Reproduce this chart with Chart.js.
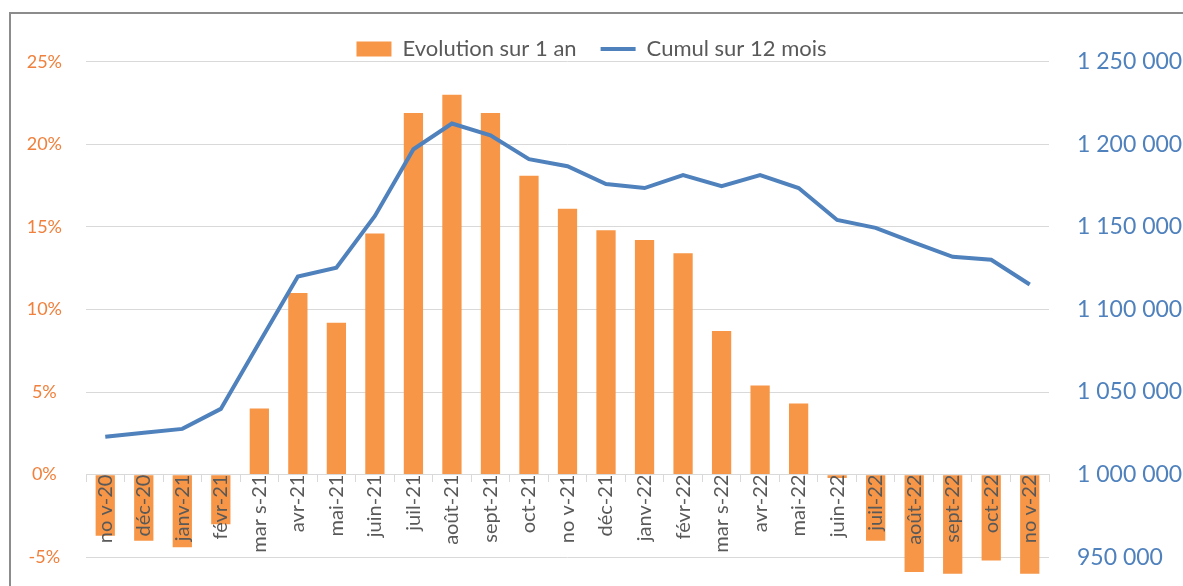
<!DOCTYPE html>
<html>
<head>
<meta charset="utf-8">
<script src="https://cdn.jsdelivr.net/npm/chart.js@4/dist/chart.umd.min.js"></script>
<style>
  html, body { margin: 0; padding: 0; background: #ffffff; }
  #wrap { position: relative; width: 1183px; height: 586px; overflow: hidden; }
  #frame { position: absolute; left: 9px; top: 12px; width: 1200px; height: 600px;
           border-left: 2px solid #8c8c8c; border-top: 2px solid #8c8c8c; }
  canvas { position: absolute; left: 0; top: 0; }
</style>
</head>
<body>
<div id="wrap">
  <div id="frame"></div>
  <canvas id="c" width="1183" height="586"></canvas>
</div>
<script>
const categories = ["no v-20", "déc-20", "janv-21", "févr-21", "mar s-21", "avr-21", "mai-21", "juin-21",
  "juil-21", "août-21", "sept-21", "oct-21", "no v-21", "déc-21", "janv-22", "févr-22", "mar s-22",
  "avr-22", "mai-22", "juin-22", "juil-22", "août-22", "sept-22", "oct-22", "no v-22"];

// Evolution sur 1 an (%)
const evolution = [-3.7, -4.0, -4.4, -3.0, 4.0, 11.0, 9.2, 14.6, 21.9, 23.0, 21.9, 18.1, 16.1, 14.8,
  14.2, 13.4, 8.7, 5.4, 4.3, -0.2, -4.0, -5.9, -6.0, -5.2, -6.0];

// Cumul sur 12 mois
const cumul = [1023000, 1025300, 1027700, 1039800, 1080000, 1119900, 1125300, 1156600, 1197000,
  1212600, 1205400, 1191000, 1186700, 1175900, 1173500, 1181300, 1174700, 1181300, 1173500,
  1154200, 1149400, 1140400, 1131900, 1130100, 1115100];

const seriesNames = ["Evolution sur 1 an", "Cumul sur 12 mois"];
const leftTickValues = [-5, 0, 5, 10, 15, 20, 25];
const rightTickValues = [950000, 1000000, 1050000, 1100000, 1150000, 1200000, 1250000];
const leftRange = [-6.5, 25];
const rightRange = [935000, 1250000];

const FONT = "Lato, 'Open Sans', sans-serif";

function fmtThousands(v) {
  return String(Math.round(v)).replace(/\B(?=(\d{3})+(?!\d))/g, " ");
}

new Chart(document.getElementById("c"), {
  data: {
    labels: categories,
    datasets: [
      {
        type: "line",
        label: seriesNames[1],
        data: cumul,
        yAxisID: "y1",
        borderColor: "#4F81BD",
        backgroundColor: "#4F81BD",
        borderWidth: 4,
        pointRadius: 0,
        pointStyle: "line",
        tension: 0,
        order: 0
      },
      {
        type: "bar",
        label: seriesNames[0],
        data: evolution,
        yAxisID: "y",
        backgroundColor: "#F79646",
        borderWidth: 0,
        pointStyle: "rect",
        categoryPercentage: 1.0,
        barPercentage: 0.5,
        order: 1
      }
    ]
  },
  options: {
    responsive: false,
    animation: false,
    devicePixelRatio: 1,
    layout: { padding: { top: 14, left: 0, right: 0, bottom: 4 } },
    plugins: {
      legend: {
        position: "top",
        align: "center",
        reverse: true,
        maxHeight: 47.7,
        labels: {
          usePointStyle: true,
          pointStyleWidth: 35,
          boxHeight: 15,
          padding: 24,
          color: "#595959",
          font: { family: FONT, size: 22 }
        }
      },
      tooltip: { enabled: false }
    },
    scales: {
      x: {
        type: "category",
        position: { y: 0 },
        offset: true,
        afterFit: (s) => { s.height = 0; },
        grid: {
          display: true,
          drawOnChartArea: false,
          drawTicks: true,
          tickLength: 7,
          offset: true,
          color: "#d9d9d9",
          z: 1
        },
        border: { display: true, color: "#d9d9d9", width: 1, z: 1 },
        ticks: {
          autoSkip: false,
          minRotation: 90,
          maxRotation: 90,
          padding: -7,
          z: 2,
          color: "#595959",
          font: { family: FONT, size: 20 }
        }
      },
      y: {
        type: "linear",
        position: "left",
        min: leftRange[0],
        max: leftRange[1],
        afterFit: (s) => { s.width = 86; s.paddingTop = 0; s.paddingBottom = 0; },
        afterBuildTicks: (s) => { s.ticks = leftTickValues.map(v => ({ value: v })); },
        grid: { color: "#d9d9d9", drawTicks: false, lineWidth: 1 },
        border: { display: false },
        ticks: {
          crossAlign: "center",
          padding: 24,
          color: "#F0803C",
          font: { family: FONT, size: 18 },
          callback: (v) => v + "%"
        }
      },
      y1: {
        type: "linear",
        position: "right",
        min: rightRange[0],
        max: rightRange[1],
        afterFit: (s) => { s.width = 134; s.paddingTop = 0; s.paddingBottom = 0; },
        afterBuildTicks: (s) => { s.ticks = rightTickValues.map(v => ({ value: v })); },
        grid: { drawOnChartArea: false, drawTicks: false },
        border: { display: false },
        ticks: {
          padding: 28,
          color: "#4F81BD",
          font: { family: FONT, size: 23 },
          callback: (v) => fmtThousands(v)
        }
      }
    }
  }
});
</script>
</body>
</html>
